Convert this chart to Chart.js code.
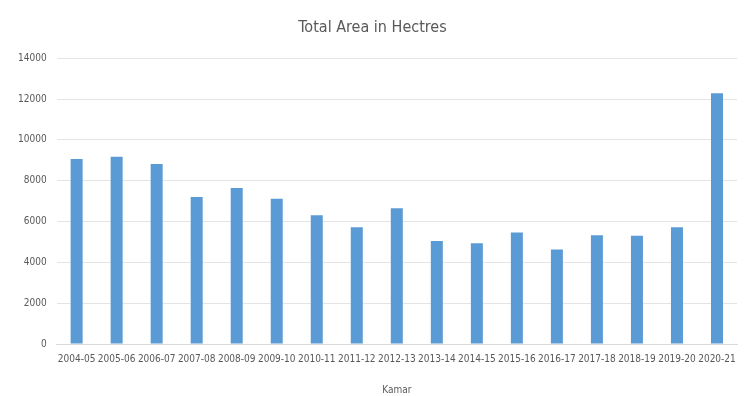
<!DOCTYPE html>
<html>
<head>
<meta charset="utf-8">
<script src="https://cdn.jsdelivr.net/npm/chart.js@4/dist/chart.umd.min.js"></script>
<style>
  html, body { margin: 0; padding: 0; background: #fff; }
  #wrap { width: 748px; height: 396px; }
</style>
</head>
<body>
<div id="wrap"><canvas id="areaChart"></canvas></div>
<script>
// Years and total area (hectares)
const years = ["2004-05", "2005-06", "2006-07", "2007-08", "2008-09", "2009-10", "2010-11", "2011-12",
  "2012-13", "2013-14", "2014-15", "2015-16", "2016-17", "2017-18", "2018-19", "2019-20", "2020-21"];
const areaHa = [9060, 9170, 8820, 7200, 7640, 7110, 6310, 5720, 6650, 5040, 4940, 5460, 4630, 5330, 5300, 5720, 12280];
const yTicks = [0, 2000, 4000, 6000, 8000, 10000, 12000, 14000];

const font = "'Liberation Sans Narrow', 'DejaVu Sans Condensed', sans-serif";

new Chart(document.getElementById("areaChart"), {
  type: "bar",
  data: {
    labels: years,
    datasets: [{
      label: "Total Area in Hectres",
      data: areaHa,
      backgroundColor: "#5b9bd5",
      barPercentage: 0.3,
      categoryPercentage: 1.0
    }]
  },
  options: {
    responsive: true,
    maintainAspectRatio: false,
    animation: false,
    layout: { padding: { left: 8, right: 11, top: 6, bottom: 0 } },
    plugins: {
      legend: { display: false },
      tooltip: { enabled: false },
      title: {
        display: true,
        text: "Total Area in Hectres",
        color: "#595959",
        font: { family: font, size: 16, weight: "normal" },
        padding: { top: 12, bottom: 21 }
      }
    },
    scales: {
      x: {
        grid: { display: false },
        border: { color: "#d9d9d9" },
        ticks: {
          color: "#595959",
          font: { family: font, size: 10 },
          autoSkip: false,
          maxRotation: 0,
          padding: 1
        },
        title: {
          display: true,
          text: "Kamar",
          color: "#595959",
          font: { family: font, size: 10 },
          padding: { top: 18, bottom: 0 }
        }
      },
      y: {
        min: 0,
        max: 14000,
        afterBuildTicks: axis => { axis.ticks = yTicks.map(v => ({ value: v })); },
        grid: { color: "#e4e4e4", drawTicks: false },
        border: { display: false },
        ticks: {
          color: "#595959",
          font: { family: font, size: 10 },
          padding: 10,
          callback: v => String(v)
        }
      }
    }
  }
});
</script>
</body>
</html>
